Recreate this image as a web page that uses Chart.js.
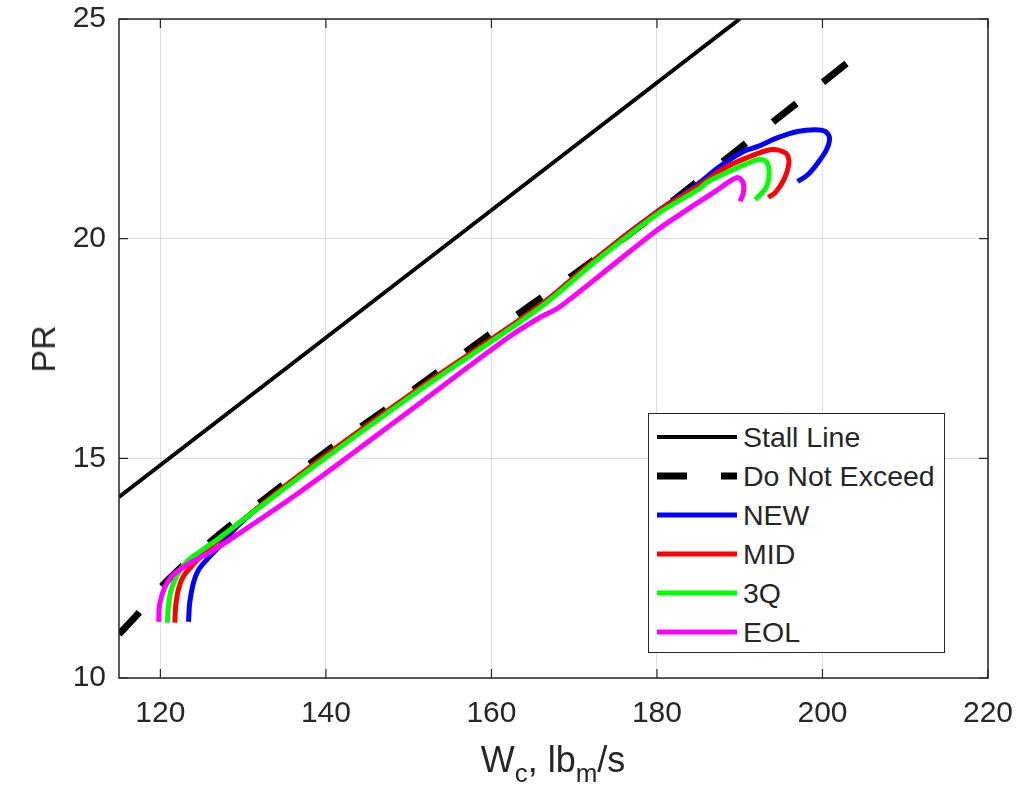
<!DOCTYPE html>
<html>
<head>
<meta charset="utf-8">
<script src="https://cdn.jsdelivr.net/npm/chart.js@4.4.1/dist/chart.umd.min.js"></script>
<style>
  body { margin: 0; background: #fff; }
  #wrap { position: relative; width: 1031px; height: 788px; font-family: "Liberation Sans", Arial, sans-serif; color: #262626; }
  #chart { position: absolute; left: 0; top: 0; }
  .ytitle { position: absolute; left: 43px; top: 349px; transform: translate(-50%, -50%) rotate(-90deg); font-size: 34px; line-height: 1; }
  .xtitle { position: absolute; left: 553px; top: 742px; transform: translateX(-50%); font-size: 36px; line-height: 1; white-space: nowrap; }
  .xtitle sub { font-size: 26px; vertical-align: -10px; line-height: 1; }
  #legend { position: absolute; left: 648px; top: 413px; width: 295px; height: 238px; border: 1.5px solid #262626; background: #fff; }
  .row { position: absolute; left: 0; width: 295px; height: 39px; }
  .sample { position: absolute; left: 8px; width: 80px; top: 50%; transform: translateY(-50%); }
  .label { position: absolute; left: 94px; top: 50%; transform: translateY(-50%); font-size: 28.5px; line-height: 1; white-space: nowrap; }
</style>
</head>
<body>
<div id="wrap">
  <canvas id="chart" width="1031" height="788"></canvas>
  <div class="ytitle">PR</div>
  <div class="xtitle">W<sub>c</sub>, lb<sub>m</sub>/s</div>
  <div id="legend"></div>
</div>
<script>
// axis ticks
const xTicks = [120, 140, 160, 180, 200, 220];
const yTicks = [10, 15, 20, 25];

// Stall Line
const stallW = [115, 190];
const stallPR = [14.12, 25.0];

// Do Not Exceed
const dneW = [115, 117, 121, 127, 133, 140, 150, 160, 170, 180, 190, 197, 203];
const dnePR = [11.0, 11.4, 12.25, 13.25, 14.13, 15.15, 16.48, 17.85, 19.19, 20.58, 22.06, 23.1, 24.0];

// NEW
const newW = [123.4, 123.55, 124.0, 124.6, 125.6, 127.0, 130.0, 137.0, 151.3, 165.8, 173.0, 180.2, 185.0, 187.4, 190.4, 192.2, 194.6, 197.0, 199.1, 200.35, 200.85, 200.5, 199.45, 198.25, 197.0];
const newPR = [11.28, 11.72, 12.17, 12.46, 12.69, 12.97, 13.58, 14.63, 16.58, 18.46, 19.6, 20.64, 21.25, 21.62, 21.98, 22.10, 22.30, 22.44, 22.48, 22.44, 22.30, 22.03, 21.73, 21.46, 21.30];

// MID
const midW = [121.75, 121.85, 122.2, 122.8, 123.9, 126.0, 137.0, 151.3, 165.8, 173.0, 180.2, 185.0, 188.3, 192.2, 194.0, 195.6, 195.95, 195.35, 194.3, 193.45];
const midPR = [11.26, 11.64, 12.03, 12.32, 12.57, 12.98, 14.65, 16.6, 18.47, 19.6, 20.63, 21.2, 21.62, 21.94, 22.03, 21.94, 21.73, 21.35, 21.05, 20.94];

// 3Q
const q3W = [120.85, 120.95, 121.25, 122.0, 123.2, 124.8, 127.2, 137.0, 151.3, 165.8, 173.0, 180.2, 185.0, 186.2, 189.8, 192.2, 193.2, 193.55, 193.2, 191.9];
const q3PR = [11.26, 11.6, 11.97, 12.33, 12.65, 12.88, 13.2, 14.6, 16.55, 18.42, 19.55, 20.58, 21.12, 21.3, 21.62, 21.80, 21.76, 21.5, 21.17, 20.89];

// EOL
const eolW = [119.8, 119.9, 120.5, 121.5, 123.6, 125.6, 127.2, 136.9, 150.1, 162.1, 165.8, 168.2, 174.0, 180.2, 184.2, 187.0, 189.0, 189.8, 190.4, 190.45, 190.05];
const eolPR = [11.28, 11.67, 12.05, 12.34, 12.62, 12.82, 13.0, 14.24, 16.08, 17.76, 18.2, 18.44, 19.3, 20.22, 20.73, 21.07, 21.33, 21.39, 21.28, 21.05, 20.85];

const textColor = '#262626';
const fontFamily = '"Liberation Sans", Arial, sans-serif';

function toPoints(w, pr) {
    return w.map((v, i) => ({ x: v, y: pr[i] }));
}

function makeSet(label, w, pr, color, width, dash, order) {
    return {
        label: label,
        data: toPoints(w, pr),
        borderColor: color,
        backgroundColor: color,
        borderWidth: width,
        borderDash: dash,
        showLine: true,
        pointRadius: 0,
        tension: 0.3,
        fill: false,
        order: order
    };
}

const datasets = [
    makeSet('Stall Line', stallW, stallPR, '#000000', 4, [], 5),
    makeSet('Do Not Exceed', dneW, dnePR, '#000000', 7, [30, 34], 4),
    makeSet('NEW', newW, newPR, '#0000ff', 5, [], 3),
    makeSet('MID', midW, midPR, '#ff0000', 5, [], 2),
    makeSet('3Q', q3W, q3PR, '#00ff00', 5, [], 1),
    makeSet('EOL', eolW, eolPR, '#ff00ff', 5, [], 0)
];

// axes box with inward ticks, drawn on top like MATLAB
const boxPlugin = {
    id: 'axesBox',
    afterDraw(chart) {
        const ctx = chart.ctx;
        const a = chart.chartArea;
        const x = chart.scales.x, y = chart.scales.y;
        ctx.save();
        ctx.strokeStyle = textColor;
        ctx.lineWidth = 1.5;
        ctx.strokeRect(a.left, a.top, a.right - a.left, a.bottom - a.top);
        ctx.lineWidth = 1.2;
        ctx.beginPath();
        xTicks.forEach(v => {
            const px = x.getPixelForValue(v);
            ctx.moveTo(px, a.bottom); ctx.lineTo(px, a.bottom - 9);
            ctx.moveTo(px, a.top); ctx.lineTo(px, a.top + 9);
        });
        yTicks.forEach(v => {
            const py = y.getPixelForValue(v);
            ctx.moveTo(a.left, py); ctx.lineTo(a.left + 9, py);
            ctx.moveTo(a.right, py); ctx.lineTo(a.right - 9, py);
        });
        ctx.stroke();
        ctx.restore();
    }
};

const chart = new Chart(document.getElementById('chart').getContext('2d'), {
    type: 'scatter',
    data: { datasets: datasets },
    options: {
        responsive: false,
        animation: false,
        layout: { padding: { top: 19, right: 43, left: 0, bottom: 0 } },
        plugins: { legend: { display: false }, tooltip: { enabled: false } },
        scales: {
            x: {
                type: 'linear',
                min: 115,
                max: 220,
                afterBuildTicks: scale => { scale.ticks = xTicks.map(v => ({ value: v })); },
                afterFit: scale => {
                    scale.height = 110;
                    scale.paddingLeft = 0;
                    scale.paddingRight = 0;
                },
                grid: { color: 'rgba(38,38,38,0.15)', lineWidth: 1, drawTicks: false },
                border: { display: false },
                ticks: { color: textColor, font: { family: fontFamily, size: 30 }, padding: 18, maxRotation: 0 }
            },
            y: {
                type: 'linear',
                min: 10,
                max: 25,
                afterBuildTicks: scale => { scale.ticks = yTicks.map(v => ({ value: v })); },
                afterFit: scale => {
                    scale.width = 119;
                    scale.paddingTop = 0;
                    scale.paddingBottom = 0;
                },
                grid: { color: 'rgba(38,38,38,0.15)', lineWidth: 1, drawTicks: false },
                border: { display: false },
                ticks: { color: textColor, font: { family: fontFamily, size: 30 }, padding: 13 }
            }
        }
    },
    plugins: [boxPlugin]
});

// legend built from the datasets
const legend = document.getElementById('legend');
chart.data.datasets.forEach((ds, i) => {
    const row = document.createElement('div');
    row.className = 'row';
    row.style.top = (3 + i * 39) + 'px';
    const sample = document.createElement('div');
    sample.className = 'sample';
    sample.style.height = ds.borderWidth + 'px';
    if (ds.borderDash.length) {
        const d = ds.borderDash[0], g = ds.borderDash[0] + ds.borderDash[1];
        sample.style.background = `repeating-linear-gradient(to right, ${ds.borderColor} 0 ${d}px, transparent ${d}px ${g}px)`;
    } else {
        sample.style.background = ds.borderColor;
    }
    const label = document.createElement('div');
    label.className = 'label';
    label.textContent = ds.label;
    row.appendChild(sample);
    row.appendChild(label);
    legend.appendChild(row);
});
</script>
</body>
</html>
